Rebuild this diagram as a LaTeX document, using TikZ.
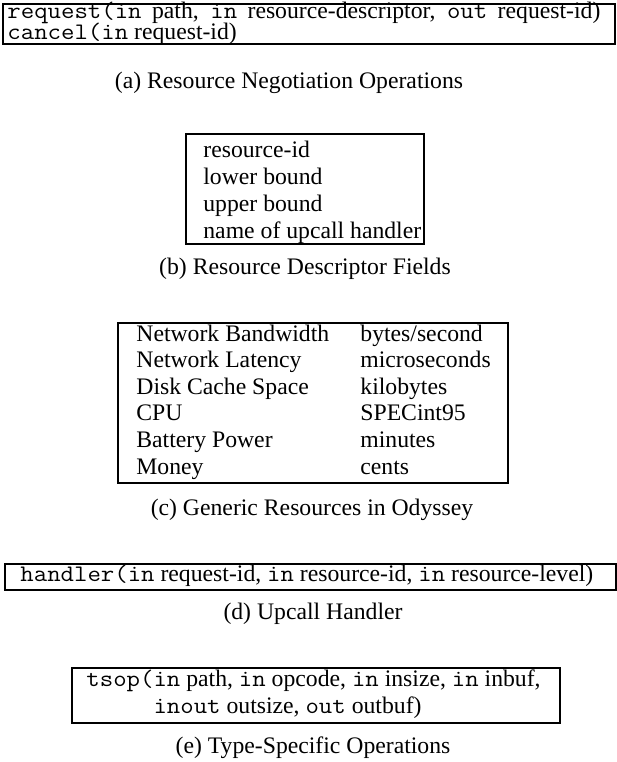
\documentclass[tikz,border=0pt]{standalone}
\usepackage{fontspec}
\setmainfont{Liberation Serif}
\setmonofont{Latin Modern Mono}[FakeStretch=1.10]
\begin{document}
\begin{tikzpicture}[x=0.5pt,y=-0.5pt,
    every node/.style={inner sep=0,font=\fontsize{11.85}{13.3}\selectfont},
    txt/.style={anchor=base west},
    subcap/.style={anchor=base},
    boxline/.style={line width=1.2pt}]
    \useasboundingbox (0,0) rectangle (617,762);

    % (a) negotiation
    \draw[boxline] (3,4) rectangle (615,44);
    \node[txt, align=left] (reqops) at (7,39) {\makebox[296.5pt][s]{\texttt{request(in} path, \texttt{in} resource-descriptor, \texttt{out} request-id)}\\[-2.8pt]
        \texttt{cancel(in} request-id)};
    \node[subcap] (capa) at (289,88.5) {(a) Resource Negotiation Operations};

    % (b) descriptor
    \draw[boxline] (186,134) rectangle (424,244);
    \foreach \f [count=\i] in {resource-id, lower bound, upper bound, name of upcall handler}
        \node[txt] (field\i) at (203,131+26.8*\i) {\f};
    \node[subcap] (capb) at (305,274) {(b) Resource Descriptor Fields};

    % (c) resources
    \draw[boxline] (118,323) rectangle (508,483);
    \foreach \r/\u [count=\i] in {Network Bandwidth/bytes\slash second, Network Latency/microseconds,
        Disk Cache Space/kilobytes, CPU/SPECint95, Battery Power/minutes, Money/cents} {
        \node[txt] (res\i) at (136,314.5+26.6*\i) {\r};
        \node[txt] (unit\i) at (360,314.5+26.6*\i) {\u};
    }
    \node[subcap] (capc) at (312,515.5) {(c) Generic Resources in Odyssey};

    % (d) upcall
    \draw[boxline] (5,564) rectangle (616,590);
    \node[txt] (handler) at (20,581) {\texttt{handler(in} request-id, \texttt{in} resource-id, \texttt{in} resource-level)};
    \node[subcap] (capd) at (313,619.5) {(d) Upcall Handler};

    % (e) tsop
    \draw[boxline] (72,668) rectangle (560,723);
    \node[txt] (tsop) at (86,686) {\texttt{tsop(in} path, \texttt{in} opcode, \texttt{in} insize, \texttt{in} inbuf,};
    \node[txt] (tsop2) at (86,713) {\hphantom{\texttt{tsop(}}\texttt{inout} outsize, \texttt{out} outbuf)};
    \node[subcap] (cape) at (313,753.5) {(e) Type-Specific Operations};
\end{tikzpicture}
\end{document}
